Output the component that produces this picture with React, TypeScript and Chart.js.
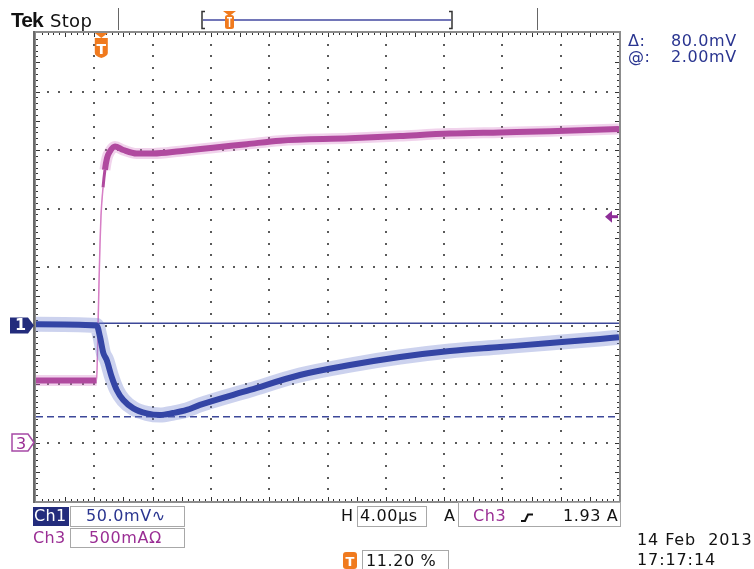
import React, { useEffect, useRef } from "react";
import { Chart, registerables } from "chart.js";
Chart.register(...registerables);

const W = 754;
const H = 569;

// Horizontal: 4.00 µs/div, trigger at 11.20 % of the record
const timeMin = -4.48;
const timeMax = 35.52;
const timeGrid = [-4.48, -0.48, 3.52, 7.52, 11.52, 15.52, 19.52, 23.52, 27.52, 31.52, 35.52];
// Ch1: 50.0 mV/div, Ch3: 500 mA/div
const ch1Grid = [-150, -100, -50, 0, 50, 100, 150, 200, 250];
const ch3Range = [-0.5, 3.5];

// Ch1 (mV)
const ch1Time = [-4.48, -0.32, -0.09, 0.14, 0.37, 0.71, 1.06, 1.51, 2.2, 3.12, 4.03, 4.92, 5.86, 6.77, 10.2, 13.63, 17.06, 20.49, 23.92, 27.36, 30.79, 34.22, 35.52];
const ch1mV = [1, 0, -9.6, -23.5, -29.5, -43.8, -55.1, -63.7, -70.8, -75.1, -76.5, -74.8, -72.2, -67.9, -55.1, -42.3, -33.8, -26.9, -21.8, -18.4, -15, -11.5, -10];

// Ch3 (A)
const ch3Time = [-4.48, -0.32, -0.23, -0.16, -0.09, -0.02, 0.12, 0.25, 0.39, 0.6, 0.94, 1.51, 2.43, 3.57, 5.4, 7.66, 9.98, 12.26, 17.06, 20.49, 23.92, 27.36, 30.79, 35.52];
const ch3Amp = [0.53, 0.53, 0.96, 1.35, 1.69, 1.94, 2.18, 2.33, 2.43, 2.49, 2.53, 2.5, 2.47, 2.47, 2.49, 2.52, 2.55, 2.58, 2.6, 2.62, 2.64, 2.65, 2.66, 2.68];

// Cursors / markers
const cursorA = 2; // mV
const cursorB = -78; // mV
const triggerTime = 0; // µs
const triggerLevel = 1.93; // A
const ch1Ground = 0;
const ch3Ground = 0;

const NAVY = "#2a3590";
const MAGENTA = "#9a2e94";
const ORANGE = "#f07a1e";
const FONT = "'DejaVu Sans', sans-serif";

const pts = (xs: number[], ys: number[]) => xs.map((x, i) => ({ x, y: ys[i] }));

function roundRectPath(ctx: CanvasRenderingContext2D, x: number, y: number, w: number, h: number, r: number) {
  ctx.beginPath();
  ctx.moveTo(x + r, y);
  ctx.lineTo(x + w - r, y);
  ctx.quadraticCurveTo(x + w, y, x + w, y + r);
  ctx.lineTo(x + w, y + h - r);
  ctx.quadraticCurveTo(x + w, y + h, x + w - r, y + h);
  ctx.lineTo(x + r, y + h);
  ctx.quadraticCurveTo(x, y + h, x, y + h - r);
  ctx.lineTo(x, y + r);
  ctx.quadraticCurveTo(x, y, x + r, y);
  ctx.closePath();
}

const scopePlugin = {
  id: "scope",
  beforeDatasetsDraw(chart: any) {
    const { ctx, chartArea: a, scales } = chart;
    const xs = scales.x;
    const y1 = scales.y1;
    ctx.save();
    // dotted graticule
    ctx.fillStyle = "#5a5a5a";
    const minorT = (timeGrid[1] - timeGrid[0]) / 5;
    const minorV = (ch1Grid[1] - ch1Grid[0]) / 5;
    for (let i = 1; i < timeGrid.length - 1; i++) {
      const px = Math.round(xs.getPixelForValue(timeGrid[i]));
      for (let k = 1; k < (ch1Grid.length - 1) * 5; k++) {
        const py = Math.round(y1.getPixelForValue(ch1Grid[0] + k * minorV));
        ctx.fillRect(px - 1, py - 1, 2, 2);
      }
    }
    for (let i = 1; i < ch1Grid.length - 1; i++) {
      const py = Math.round(y1.getPixelForValue(ch1Grid[i]));
      for (let k = 1; k < (timeGrid.length - 1) * 5; k++) {
        const px = Math.round(xs.getPixelForValue(timeGrid[0] + k * minorT));
        ctx.fillRect(px - 1, py - 1, 2, 2);
      }
    }
    // frame
    ctx.strokeStyle = "#8c8c8c";
    ctx.lineWidth = 2;
    ctx.strokeRect(a.left - 1, a.top - 1, a.right - a.left + 2, a.bottom - a.top + 2);
    ctx.fillStyle = "#6a6a6a";
    ctx.fillRect(a.left - 3, a.top - 2, 2, a.bottom - a.top + 4);
    // ruler ticks (0.1 div)
    ctx.fillStyle = "#333";
    const tT = minorT / 2;
    for (let k = 1; k < (timeGrid.length - 1) * 10; k++) {
      const px = Math.round(xs.getPixelForValue(timeGrid[0] + k * tT));
      const len = k % 5 === 0 ? 4 : 2;
      ctx.fillRect(px, a.top, 1, len);
      ctx.fillRect(px, a.bottom - len, 1, len);
    }
    const tV = minorV / 2;
    for (let k = 1; k < (ch1Grid.length - 1) * 10; k++) {
      const py = Math.round(y1.getPixelForValue(ch1Grid[0] + k * tV));
      const len = k % 5 === 0 ? 4 : 2;
      ctx.fillRect(a.left, py, len, 1);
      ctx.fillRect(a.right - len, py, len, 1);
    }
    ctx.restore();
  },
  afterDraw(chart: any) {
    const { ctx, chartArea: a, scales } = chart;
    const xs = scales.x;
    const y1 = scales.y1;
    const y3 = scales.y3;
    ctx.save();

    // top separators
    ctx.strokeStyle = "#666";
    ctx.lineWidth = 1;
    ctx.beginPath();
    ctx.moveTo(118.5, 8); ctx.lineTo(118.5, 30);
    ctx.moveTo(537.5, 8); ctx.lineTo(537.5, 30);
    ctx.stroke();

    // record view bar
    ctx.strokeStyle = "#7276b8";
    ctx.lineWidth = 2;
    ctx.beginPath();
    ctx.moveTo(203, 20); ctx.lineTo(451, 20);
    ctx.stroke();
    ctx.strokeStyle = "#333";
    ctx.lineWidth = 1.5;
    ctx.beginPath();
    ctx.moveTo(205, 11.5); ctx.lineTo(202, 11.5); ctx.lineTo(202, 28.5); ctx.lineTo(205, 28.5);
    ctx.moveTo(449, 11.5); ctx.lineTo(452, 11.5); ctx.lineTo(452, 28.5); ctx.lineTo(449, 28.5);
    ctx.stroke();
    // small T in record bar
    ctx.fillStyle = ORANGE;
    ctx.beginPath();
    ctx.moveTo(223, 11); ctx.lineTo(236, 11); ctx.lineTo(229.5, 16); ctx.closePath();
    ctx.fill();
    roundRectPath(ctx, 225, 15, 9, 14, 2.5);
    ctx.fill();
    ctx.fillStyle = "#fff";
    ctx.fillRect(227, 17, 5, 1.5);
    ctx.fillRect(228.8, 17, 1.5, 10);

    // trigger position marker
    const tx = xs.getPixelForValue(triggerTime);
    ctx.fillStyle = ORANGE;
    ctx.beginPath();
    ctx.moveTo(tx - 6.5, a.top); ctx.lineTo(tx + 6.5, a.top); ctx.lineTo(tx, a.top + 5); ctx.closePath();
    ctx.fill();
    ctx.beginPath();
    ctx.moveTo(tx - 6.5, a.top + 5);
    ctx.lineTo(tx + 6.5, a.top + 5);
    ctx.lineTo(tx + 6.5, a.top + 20);
    ctx.quadraticCurveTo(tx + 6.5, a.top + 23, tx, a.top + 25);
    ctx.quadraticCurveTo(tx - 6.5, a.top + 23, tx - 6.5, a.top + 20);
    ctx.closePath();
    ctx.fill();

    // Ch1 ground marker
    const g1 = y1.getPixelForValue(ch1Ground);
    ctx.fillStyle = "#232c7c";
    ctx.beginPath();
    ctx.moveTo(10, g1 - 8); ctx.lineTo(28, g1 - 8); ctx.lineTo(34, g1); ctx.lineTo(28, g1 + 8); ctx.lineTo(10, g1 + 8);
    ctx.closePath();
    ctx.fill();

    // Ch3 ground marker
    const g3 = y3.getPixelForValue(ch3Ground);
    ctx.fillStyle = "#fff";
    ctx.strokeStyle = "#a64aa6";
    ctx.lineWidth = 1.5;
    ctx.beginPath();
    ctx.moveTo(12, g3 - 8.5); ctx.lineTo(28, g3 - 8.5); ctx.lineTo(34, g3); ctx.lineTo(28, g3 + 8.5); ctx.lineTo(12, g3 + 8.5);
    ctx.closePath();
    ctx.fill();
    ctx.stroke();

    // trigger level arrow
    const ty = y3.getPixelForValue(triggerLevel);
    ctx.fillStyle = "#8e2e98";
    ctx.beginPath();
    ctx.moveTo(a.right - 14, ty); ctx.lineTo(a.right - 7, ty - 6); ctx.lineTo(a.right - 7, ty + 6);
    ctx.closePath();
    ctx.fill();
    ctx.fillRect(a.right - 8, ty - 1.5, 7, 3);

    // bottom readout boxes
    ctx.fillStyle = "#232c7c";
    ctx.fillRect(33, 507, 36, 19);
    ctx.strokeStyle = "#a8a8a8";
    ctx.lineWidth = 1;
    ctx.strokeRect(70.5, 506.5, 114, 20);
    ctx.strokeRect(70.5, 528.5, 114, 19);
    ctx.strokeRect(357.5, 506.5, 69, 20);
    ctx.strokeRect(458.5, 502.5, 162, 24);
    ctx.strokeRect(362.5, 550.5, 86, 20);
    // edge symbol
    ctx.strokeStyle = "#111";
    ctx.lineWidth = 2;
    ctx.beginPath();
    ctx.moveTo(521, 521); ctx.lineTo(525, 521); ctx.lineTo(528, 514.5); ctx.lineTo(533, 514.5);
    ctx.stroke();
    // bottom T icon
    ctx.fillStyle = ORANGE;
    roundRectPath(ctx, 343, 552, 14, 17, 3);
    ctx.fill();

    ctx.restore();
  },
};

function Txt(props: { x: number; base: number; size?: number; color?: string; bold?: boolean; family?: string; ls?: number; children: React.ReactNode }) {
  const size = props.size ?? 16;
  return (
    <div
      style={{
        position: "absolute",
        left: props.x,
        top: props.base - Math.round(size * 0.85),
        fontSize: size,
        lineHeight: 1,
        fontFamily: props.family ?? FONT,
        fontWeight: props.bold ? 700 : 400,
        color: props.color ?? "#111",
        whiteSpace: "pre",
        letterSpacing: props.ls ?? 0.6,
      }}
    >
      {props.children}
    </div>
  );
}

export default function App() {
  const ref = useRef<HTMLCanvasElement>(null);
  useEffect(() => {
    const ch1 = pts(ch1Time, ch1mV);
    const ch3 = pts(ch3Time, ch3Amp);
    const chart = new Chart(ref.current as HTMLCanvasElement, {
      type: "line",
      data: {
        datasets: [
          {
            label: "Ch1",
            data: ch1,
            yAxisID: "y1",
            borderColor: "#3445a5",
            borderWidth: 6,
            pointRadius: 0,
            cubicInterpolationMode: "monotone",
            clip: 0,
          },
          {
            label: "Ch1 envelope",
            data: ch1,
            yAxisID: "y1",
            borderColor: "rgba(110,125,205,0.35)",
            borderWidth: 15,
            pointRadius: 0,
            cubicInterpolationMode: "monotone",
            clip: 0,
          },
          {
            label: "Ch3",
            data: ch3,
            yAxisID: "y3",
            borderColor: "#b04a9f",
            borderWidth: 6,
            pointRadius: 0,
            cubicInterpolationMode: "monotone",
            clip: 0,
            segment: {
              borderWidth: (c: any) => (c.p0DataIndex >= 1 && c.p0DataIndex <= 5 ? 1.5 : c.p0DataIndex === 6 ? 3 : 6),
              borderColor: (c: any) => (c.p0DataIndex >= 1 && c.p0DataIndex <= 5 ? "#d77fc6" : "#b04a9f"),
            },
          },
          {
            label: "Ch3 envelope",
            data: ch3,
            yAxisID: "y3",
            borderColor: "rgba(215,130,200,0.35)",
            borderWidth: 11,
            pointRadius: 0,
            cubicInterpolationMode: "monotone",
            clip: 0,
            segment: {
              borderWidth: (c: any) => (c.p0DataIndex >= 1 && c.p0DataIndex <= 6 ? 1 : 11),
            },
          },
          {
            label: "Cursor a",
            data: [{ x: timeMin, y: cursorA }, { x: timeMax, y: cursorA }],
            yAxisID: "y1",
            borderColor: "#3d4899",
            borderWidth: 1.5,
            pointRadius: 0,
            clip: 0,
          },
          {
            label: "Cursor b",
            data: [{ x: timeMin, y: cursorB }, { x: timeMax, y: cursorB }],
            yAxisID: "y1",
            borderColor: "#3d4899",
            borderWidth: 1.5,
            borderDash: [7, 4],
            pointRadius: 0,
            clip: 0,
          },
        ],
      },
      options: {
        animation: false,
        responsive: false,
        devicePixelRatio: 1,
        layout: { padding: { left: 36, top: 33, right: 135, bottom: 68 } },
        plugins: { legend: { display: false }, tooltip: { enabled: false } },
        events: [],
        scales: {
          x: { type: "linear", min: timeMin, max: timeMax, display: false },
          y1: { type: "linear", min: ch1Grid[0], max: ch1Grid[ch1Grid.length - 1], display: false },
          y3: { type: "linear", min: ch3Range[0], max: ch3Range[1], display: false },
        },
      } as any,
      plugins: [scopePlugin as any],
    });
    return () => chart.destroy();
  }, []);

  return (
    <div style={{ position: "fixed", left: 0, top: 0, width: W, height: H, background: "#fff", overflow: "hidden" }}>
      <canvas ref={ref} width={W} height={H} style={{ position: "absolute", left: 0, top: 0, width: W, height: H }} />
      <Txt x={11} base={27} size={21} bold family="'Liberation Sans', sans-serif" ls={-1}>Tek</Txt>
      <Txt x={50} base={27} size={18} ls={0.3}>Stop</Txt>
      <Txt x={96.5} base={54} size={14} bold color="#fff" ls={0}>T</Txt>
      <Txt x={15} base={331} size={16} bold color="#fff" ls={0}>1</Txt>
      <Txt x={16} base={450} size={16} color={MAGENTA} ls={0}>3</Txt>

      <Txt x={628} base={47} size={16} color={NAVY}>Δ:</Txt>
      <Txt x={671} base={47} size={16} color={NAVY}>80.0mV</Txt>
      <Txt x={628} base={63} size={16} color={NAVY}>@:</Txt>
      <Txt x={671} base={63} size={16} color={NAVY}>2.00mV</Txt>

      <Txt x={34} base={522} size={16} color="#fff" ls={0.3}>Ch1</Txt>
      <Txt x={86} base={522} size={16} color={NAVY}>50.0mV∿</Txt>
      <Txt x={33} base={544} size={16} color={MAGENTA} ls={0.3}>Ch3</Txt>
      <Txt x={89} base={544} size={16} color={MAGENTA}>500mAΩ</Txt>

      <Txt x={341} base={522} size={16}>H</Txt>
      <Txt x={360} base={522} size={16}>4.00µs</Txt>
      <Txt x={444} base={522} size={16}>A</Txt>
      <Txt x={473} base={522} size={16} color={MAGENTA}>Ch3</Txt>
      <Txt x={563} base={522} size={16}>1.93 A</Txt>

      <Txt x={345.5} base={566} size={13} bold color="#fff" ls={0}>T</Txt>
      <Txt x={366} base={567} size={16}>11.20 %</Txt>
      <Txt x={637} base={546} size={16} ls={0.9}>14 Feb  2013</Txt>
      <Txt x={637} base={566} size={16} ls={0.9}>17:17:14</Txt>
    </div>
  );
}
